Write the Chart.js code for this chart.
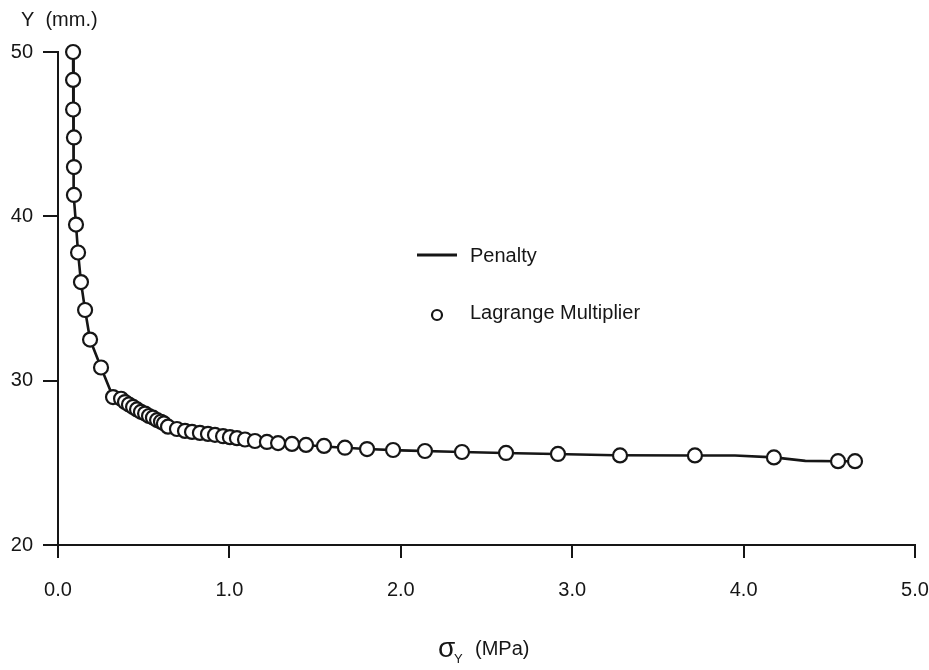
<!DOCTYPE html>
<html>
<head>
<meta charset="utf-8">
<script src="https://cdn.jsdelivr.net/npm/chart.js@4/dist/chart.umd.min.js"></script>
<style>
	html, body { margin: 0; padding: 0; background: #fff; }
	#wrap { width: 929px; height: 670px; }
</style>
</head>
<body>
<div id="wrap"><canvas id="chart" width="929" height="670"></canvas></div>
<script>
const xTicks = [0, 1, 2, 3, 4, 5];
const yTicks = [20, 30, 40, 50];

// Lagrange Multiplier (circles)
const lagX = [0.088,0.088,0.088,0.093,0.093,0.093,0.105,0.117,0.134,0.158,0.187,0.251,0.321,0.368,0.391,0.414,0.438,0.461,0.484,0.508,0.531,0.554,0.578,0.601,0.618,0.642,0.694,0.741,0.782,0.828,0.875,0.916,0.963,1.003,1.044,1.091,1.149,1.219,1.284,1.365,1.447,1.552,1.674,1.803,1.955,2.141,2.357,2.614,2.917,3.279,3.716,4.177,4.551,4.65];
const lagY = [50.0,48.3,46.5,44.8,43.0,41.3,39.5,37.8,36.0,34.3,32.5,30.8,29.0,28.9,28.7,28.55,28.4,28.25,28.1,28.0,27.85,27.75,27.6,27.5,27.4,27.2,27.06,26.94,26.88,26.82,26.76,26.7,26.62,26.56,26.5,26.42,26.33,26.27,26.2,26.15,26.09,26.03,25.92,25.84,25.78,25.72,25.66,25.6,25.54,25.45,25.45,25.33,25.1,25.1];

// Penalty (solid line)
const penX = [0.088,0.088,0.093,0.093,0.105,0.117,0.134,0.158,0.187,0.251,0.321,0.40,0.50,0.60,0.70,0.80,0.90,1.00,1.20,1.40,1.60,1.80,2.00,2.30,2.60,2.90,3.25,3.716,3.95,4.177,4.36,4.55,4.65];
const penY = [50.0,46.5,44.8,41.3,39.5,37.8,36.0,34.3,32.5,30.8,29.0,28.6,28.0,27.5,27.05,26.85,26.72,26.57,26.28,26.12,25.96,25.84,25.76,25.67,25.6,25.54,25.46,25.45,25.45,25.33,25.12,25.1,25.1];

const seriesNames = ['Penalty', 'Lagrange Multiplier'];
const yTitle = 'Y (mm.)';
const xTitleSymbol = 'σ';
const xTitleSub = 'Y';
const xTitleUnit = '(MPa)';

const ink = '#161616';
const font = '"Liberation Sans", Arial, sans-serif';

function toPoints(xs, ys) { return xs.map((x, i) => ({ x, y: ys[i] })); }

const extraText = {
	id: 'extraText',
	afterDraw(chart) {
		const ctx = chart.ctx;
		ctx.save();
		ctx.fillStyle = ink;
		ctx.strokeStyle = ink;
		ctx.textBaseline = 'alphabetic';
		ctx.textAlign = 'left';

		// axis titles
		ctx.font = `20px ${font}`;
		ctx.fillText(yTitle.replace(' ', '  '), 21, 26);
		ctx.font = `28px ${font}`;
		ctx.fillText(xTitleSymbol, 438, 657);
		ctx.font = `13px ${font}`;
		ctx.fillText(xTitleSub, 454, 663);
		ctx.font = `20px ${font}`;
		ctx.fillText(xTitleUnit, 475, 655);

		// legend
		ctx.lineWidth = 3;
		ctx.beginPath();
		ctx.moveTo(417, 255);
		ctx.lineTo(457, 255);
		ctx.stroke();
		ctx.lineWidth = 2.2;
		ctx.beginPath();
		ctx.arc(437, 315, 5, 0, Math.PI * 2);
		ctx.fillStyle = '#fff';
		ctx.fill();
		ctx.stroke();
		ctx.fillStyle = ink;
		ctx.textBaseline = 'middle';
		ctx.font = `20px ${font}`;
		ctx.fillText(seriesNames[0], 470, 256);
		ctx.fillText(seriesNames[1], 470, 313);
		ctx.restore();
	}
};

const axisLook = {
	border: { color: ink, width: 2 },
	grid: { drawOnChartArea: false, drawTicks: true, color: ink, lineWidth: 2 },
};

new Chart(document.getElementById('chart'), {
	type: 'scatter',
	data: {
		datasets: [
			{
				label: seriesNames[1],
				data: toPoints(lagX, lagY),
				showLine: false,
				pointRadius: 7,
				pointBackgroundColor: '#fff',
				pointBorderColor: ink,
				pointBorderWidth: 2.2,
				order: 0,
				clip: false
			},
			{
				label: seriesNames[0],
				data: toPoints(penX, penY),
				showLine: true,
				borderColor: ink,
				borderWidth: 2.6,
				pointRadius: 0,
				tension: 0,
				order: 1,
				clip: false
			}
		]
	},
	options: {
		responsive: false,
		animation: false,
		layout: { padding: { left: 0, right: 14, top: 52, bottom: 0 } },
		plugins: { legend: { display: false }, tooltip: { enabled: false } },
		scales: {
			x: {
				type: 'linear', min: 0, max: 5,
				afterBuildTicks: s => { s.ticks = xTicks.map(v => ({ value: v })); },
				afterFit: s => { s.height = 125; s.paddingLeft = 0; s.paddingRight = 0; },
				...axisLook,
				grid: { ...axisLook.grid, tickLength: 13 },
				ticks: { color: ink, padding: 20, maxRotation: 0, font: { family: font, size: 20 }, callback: v => v.toFixed(1) }
			},
			y: {
				type: 'linear', min: 20, max: 50,
				afterBuildTicks: s => { s.ticks = yTicks.map(v => ({ value: v })); },
				afterFit: s => { s.width = 58; s.paddingTop = 0; s.paddingBottom = 0; },
				...axisLook,
				grid: { ...axisLook.grid, tickLength: 15 },
				ticks: { color: ink, padding: 10, font: { family: font, size: 20 }, callback: v => String(v) }
			}
		}
	},
	plugins: [extraText]
});
</script>
</body>
</html>
